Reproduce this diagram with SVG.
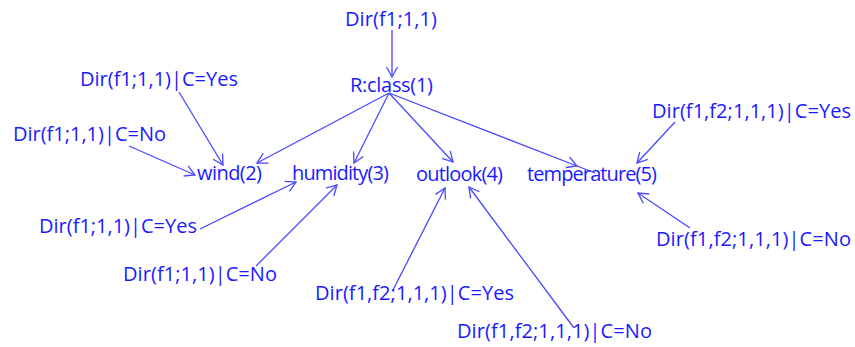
<svg xmlns="http://www.w3.org/2000/svg" width="855" height="347" viewBox="0 0 855 347">
  <style>
    text { font-family: "Open Sans", "Noto Sans", "Liberation Sans", sans-serif; font-size: 20px; fill: #1a1aff; }
    .edge { stroke: #4848ff; stroke-width: 1.3; fill: none; marker-end: url(#chev); }
    .plain { stroke: #4848ff; stroke-width: 1.3; fill: none; }
  </style>
  <defs>
    <marker id="chev" markerUnits="userSpaceOnUse" markerWidth="14" markerHeight="14" viewBox="-12 -7 14 14" refX="0" refY="0" orient="auto" overflow="visible">
      <path d="M-10,-5.5 L0,0 L-10,5.5" fill="none" stroke="#4848ff" stroke-width="1.3"/>
    </marker>
  </defs>
  <rect width="855" height="347" fill="#ffffff"/>

  <g id="connectors">
    <line class="edge" x1="392" y1="30" x2="392" y2="77"/>
    <line class="edge" x1="389" y1="93" x2="257" y2="163"/>
    <line class="edge" x1="389" y1="93" x2="354" y2="163"/>
    <line class="edge" x1="389" y1="93" x2="453" y2="162"/>
    <!-- class -> temperature: head sits before the end of the line -->
    <path class="plain" d="M389,93 L577,166 L595,173" style="marker-mid:url(#chev)"/>
    <line class="edge" x1="179" y1="92" x2="223" y2="165"/>
    <line class="edge" x1="129" y1="146" x2="195" y2="175"/>
    <line class="edge" x1="200" y1="229" x2="296" y2="182"/>
    <line class="edge" x1="256" y1="266" x2="337" y2="185"/>
    <line class="edge" x1="393" y1="290" x2="445" y2="188"/>
    <line class="edge" x1="574" y1="328" x2="469" y2="187"/>
    <line class="edge" x1="675" y1="122" x2="637" y2="163"/>
    <line class="edge" x1="690" y1="228" x2="638" y2="193"/>
  </g>

  <g id="prior-root"><text x="345" y="26" textLength="92">Dir(f1;1,1)</text></g>
  <g id="class"><text x="350" y="92" textLength="83">R:class(1)</text></g>
  <g id="wind-yes"><text x="80" y="86" textLength="158">Dir(f1;1,1)|C=Yes</text></g>
  <g id="wind-no"><text x="13" y="141" textLength="153">Dir(f1;1,1)|C=No</text></g>
  <g id="wind"><text x="197" y="180" textLength="65">wind(2)</text></g>
  <g id="humidity"><text x="292" y="180" textLength="97">humidity(3)</text></g>
  <g id="outlook"><text x="416" y="181" textLength="87">outlook(4)</text></g>
  <g id="temperature"><text x="527" y="181" textLength="130">temperature(5)</text></g>
  <g id="temp-yes"><text x="652" y="118" textLength="199">Dir(f1,f2;1,1,1)|C=Yes</text></g>
  <g id="humidity-yes"><text x="39" y="233" textLength="158">Dir(f1;1,1)|C=Yes</text></g>
  <g id="humidity-no"><text x="123" y="281" textLength="154">Dir(f1;1,1)|C=No</text></g>
  <g id="outlook-yes"><text x="315" y="300" textLength="199">Dir(f1,f2;1,1,1)|C=Yes</text></g>
  <g id="outlook-no"><text x="457" y="338" textLength="195">Dir(f1,f2;1,1,1)|C=No</text></g>
  <g id="temp-no"><text x="656" y="246" textLength="195">Dir(f1,f2;1,1,1)|C=No</text></g>
</svg>
